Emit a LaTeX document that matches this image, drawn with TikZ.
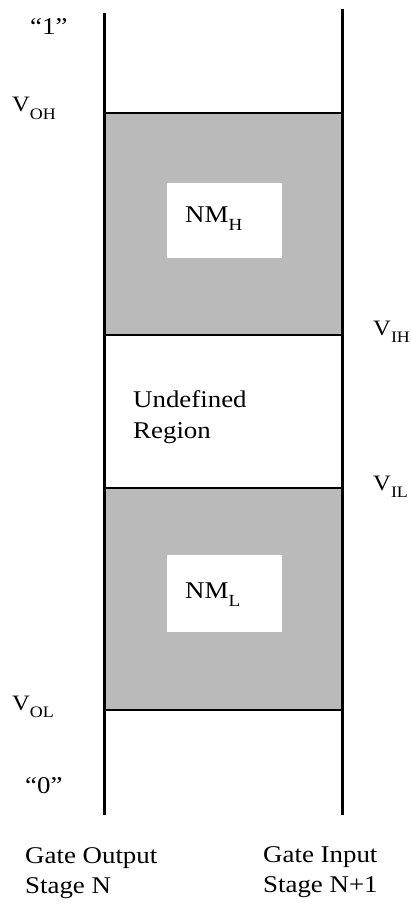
\documentclass[tikz,border=0pt]{standalone}
\usepackage{fontspec}
\setmainfont{Liberation Serif}[FakeStretch=1.12]
\definecolor{nmgray}{gray}{0.73}
\newcommand{\sbs}[2][16]{\raisebox{-0.36em}{\fontsize{#1}{#1}\selectfont #2}}
\tikzset{
  txt/.style={inner sep=0pt, anchor=base west, font=\fontsize{24}{28}\selectfont},
  vlab/.style={inner sep=0pt, anchor=base west, font=\fontsize{22}{26}\selectfont},
  rail/.style={line width=3pt},
  edge/.style={line width=2pt},
  band/.style={fill=nmgray, draw=none},
  hole/.style={fill=white, draw=none}
}
\begin{document}
\begin{tikzpicture}[x=1pt, y=-1pt]
\useasboundingbox (0,0) rectangle (411,904);
% shaded bands
\fill[band] (104,113) rectangle (342,335);
\fill[band] (104,488) rectangle (342,710);
\fill[hole] (167,183) rectangle (282,258);
\fill[hole] (167,555) rectangle (282,632);
% band edges
\coordinate (ohL) at (104,113); \coordinate (ohR) at (342,113);
\coordinate (ihL) at (104,335); \coordinate (ihR) at (342,335);
\coordinate (ilL) at (104,488); \coordinate (ilR) at (342,488);
\coordinate (olL) at (104,710); \coordinate (olR) at (342,710);
\draw[edge] (ohL) -- (ohR);
\draw[edge] (ihL) -- (ihR);
\draw[edge] (ilL) -- (ilR);
\draw[edge] (olL) -- (olR);
% rails
\coordinate (lt) at (104,13); \coordinate (lb) at (104,815);
\coordinate (rt) at (342,9);  \coordinate (rb) at (342,815);
\draw[rail] (lt) -- (lb);
\draw[rail] (rt) -- (rb);
% labels
\node[txt] (one) at (30,35) {“1”};
\node[txt] (zero) at (25,793) {“0”};
\node[vlab] (voh) at (12,112) {V\sbs{OH}};
\node[vlab] (vol) at (12,710) {V\sbs{OL}};
\node[vlab] (vih) at (373,335) {V\sbs{IH}};
\node[vlab] (vil) at (373,490) {V\sbs{IL}};
\node[txt] (nmh) at (185,222) {NM\sbs[17]{H}};
\node[txt] (nml) at (185,598) {NM\sbs[17]{L}};
\node[txt] (und1) at (133,407) {Undefined};
\node[txt] (und2) at (133,438) {Region};
\node[txt] (go1) at (25,863) {Gate Output};
\node[txt] (go2) at (25,893) {Stage N};
\node[txt] (gi1) at (263,862) {Gate Input};
\node[txt] (gi2) at (263,892) {Stage N+1};
\end{tikzpicture}
\end{document}
